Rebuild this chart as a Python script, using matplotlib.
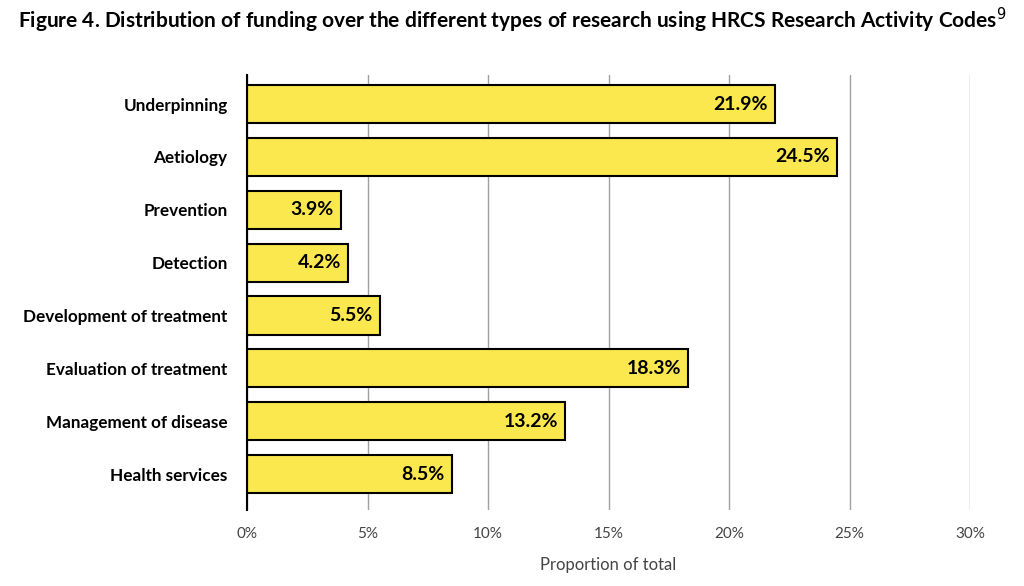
import matplotlib.pyplot as plt

# data
categories = ['Underpinning', 'Aetiology', 'Prevention', 'Detection',
              'Development of treatment', 'Evaluation of treatment',
              'Management of disease', 'Health services']
shares = [21.9, 24.5, 3.9, 4.2, 5.5, 18.3, 13.2, 8.5]
ticks = [0, 5, 10, 15, 20, 25, 30]

plt.rcParams['font.family'] = ['Lato', 'DejaVu Sans']

fig = plt.figure(figsize=(10.24, 5.86), dpi=100)
ax = fig.add_axes([247 / 1024, 1 - 510 / 586, 723 / 1024, 435 / 586])

ypos = list(range(len(categories)))
ax.barh(ypos, shares, height=0.72, color='#FBE84E', edgecolor='black',
        linewidth=1.5, zorder=3)

for y, v in zip(ypos, shares):
    ax.text(v - 0.3, y, f'{v}%', ha='right', va='center',
            fontsize=14, fontweight='bold', zorder=4)

ax.set_xlim(0, 30)
ax.set_ylim(7.68, -0.55)
ax.set_xticks(ticks)
ax.set_xticklabels([f'{t}%' for t in ticks], fontsize=11, color='#444444')
ax.set_yticks(ypos)
ax.set_yticklabels(categories, fontsize=12.3, fontweight='bold')
ax.tick_params(axis='y', length=0, pad=14)
ax.tick_params(axis='x', length=0, pad=12)
ax.xaxis.grid(True, color='#a0a0a0', linewidth=1, zorder=0)

for s in ['top', 'right', 'bottom']:
    ax.spines[s].set_visible(False)
ax.spines['left'].set_linewidth(1.5)
ax.spines['left'].set_zorder(5)

ax.set_xlabel('Proportion of total', fontsize=12, color='#444444', labelpad=12)

fig.text(18 / 1024, 1 - 20 / 586,
         'Figure 4. Distribution of funding over the different types of research using HRCS Research Activity Codes$^{9}$',
         fontsize=15, fontweight='bold', va='center', ha='left')

fig.savefig('out.png', dpi=100)
